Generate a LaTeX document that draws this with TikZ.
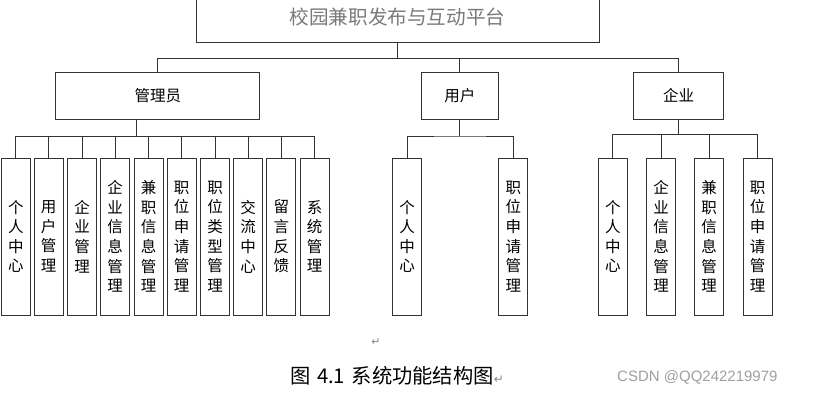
\documentclass[tikz,border=0pt]{standalone}
\usepackage{fontspec}
\newfontfamily\cjk{Noto Sans CJK SC}
\newfontfamily\dej{DejaVu Sans}
\newfontfamily\lib{Liberation Sans}
\definecolor{linec}{HTML}{333333}
\definecolor{titlec}{HTML}{7A7A7A}
\definecolor{markc}{HTML}{8A8A8A}
\definecolor{wmc}{HTML}{A0A0A0}
\tikzset{
  topbox/.style={draw=linec, line width=1pt, minimum width=403pt, minimum height=52pt, inner sep=0pt, text=titlec, font=\cjk\fontsize{19.6}{22}\selectfont},
  rolebox/.style={draw=linec, line width=1pt, minimum height=47pt, inner sep=0pt, font=\cjk\fontsize{15.5}{18}\selectfont},
  leaf/.style={draw=linec, line width=1pt, minimum width=29pt, minimum height=157pt, inner sep=0pt, align=center, font=\cjk\fontsize{15.5}{19.6}\selectfont},
  conn/.style={draw=linec, line width=1pt}
}
\begin{document}
\begin{tikzpicture}[x=1pt, y=-1pt]
\clip (0,0) rectangle (835,412);
\fill[white] (0,0) rectangle (835,412);
% top
\node[topbox] (top) at (397.5,17) {校园兼职发布与互动平台};
% roles
\node[rolebox, minimum width=203.7pt] (admin) at (157.8,95.8) {管理员};
\node[rolebox, minimum width=77pt] (user) at (459.8,95.8) {用户};
\node[rolebox, minimum width=90.4pt] (ent) at (678.5,95.8) {企业};
% admin leaves
\node[leaf] (a1) at (15.8,236.5) {个\\人\\中\\心};
\node[leaf] (a2) at (48.7,236.5) {用\\户\\管\\理};
\node[leaf] (a3) at (82,236.5) {企\\业\\管\\理};
\node[leaf] (a4) at (115.2,236.5) {企\\业\\信\\息\\管\\理};
\node[leaf] (a5) at (148.5,236.5) {兼\\职\\信\\息\\管\\理};
\node[leaf] (a6) at (181.7,236.5) {职\\位\\申\\请\\管\\理};
\node[leaf] (a7) at (215,236.5) {职\\位\\类\\型\\管\\理};
\node[leaf] (a8) at (248.2,236.5) {交\\流\\中\\心};
\node[leaf] (a9) at (281.3,236.5) {留\\言\\反\\馈};
\node[leaf] (a10) at (314.5,236.5) {系\\统\\管\\理};
% user leaves
\node[leaf] (u1) at (407.2,236.5) {个\\人\\中\\心};
\node[leaf] (u2) at (513.3,236.5) {职\\位\\申\\请\\管\\理};
% enterprise leaves
\node[leaf] (e1) at (612.8,236.5) {个\\人\\中\\心};
\node[leaf] (e2) at (661,236.5) {企\\业\\信\\息\\管\\理};
\node[leaf] (e3) at (709.2,236.5) {兼\\职\\信\\息\\管\\理};
\node[leaf] (e4) at (757.5,236.5) {职\\位\\申\\请\\管\\理};
% bus coordinates
\coordinate (tb) at (397.7,58.3);
\coordinate (ab) at (136.3,136);
\coordinate (ub) at (459.8,136);
\coordinate (eb) at (678.5,134);
% top level connectors
\draw[conn] (top.south -| tb) -- (tb);
\draw[conn] (admin.north) |- (tb) -| (ent.north);
\draw[conn] (user.north) -- (user.north |- tb);
% admin connectors
\draw[conn] (admin.south -| ab) -- (ab);
\draw[conn] (a1.north |- ab) -- (a10.north |- ab);
\foreach \n in {a1,a2,a3,a4,a5,a6,a7,a8,a9,a10}
  \draw[conn] (\n.north) -- (\n.north |- ab);
% user connectors
\draw[conn] (user.south) -- (ub);
\draw[conn] (u1.north) |- (ub) -| (u2.north);
% enterprise connectors
\draw[conn] (ent.south) -- (eb);
\draw[conn] (e1.north |- eb) -- (e4.north |- eb);
\foreach \n in {e1,e2,e3,e4}
  \draw[conn] (\n.north) -- (\n.north |- eb);
% caption
\node[text=markc, font=\dej\fontsize{11}{12}\selectfont, inner sep=0pt] (mark) at (376,342) {↵};
\node[anchor=west, inner sep=0pt, font=\cjk\fontsize{20.3}{22}\selectfont] (cap) at (290,376) {图\hspace{2pt} 4.1\hspace{2pt} 系统功能结构图{\color{markc}\dej\fontsize{12}{14}\selectfont ↵}};
\node[anchor=west, inner sep=0pt, text=wmc, font=\lib\fontsize{15}{17}\selectfont] (wm) at (617,377) {CSDN @QQ242219979};
\end{tikzpicture}
\end{document}
